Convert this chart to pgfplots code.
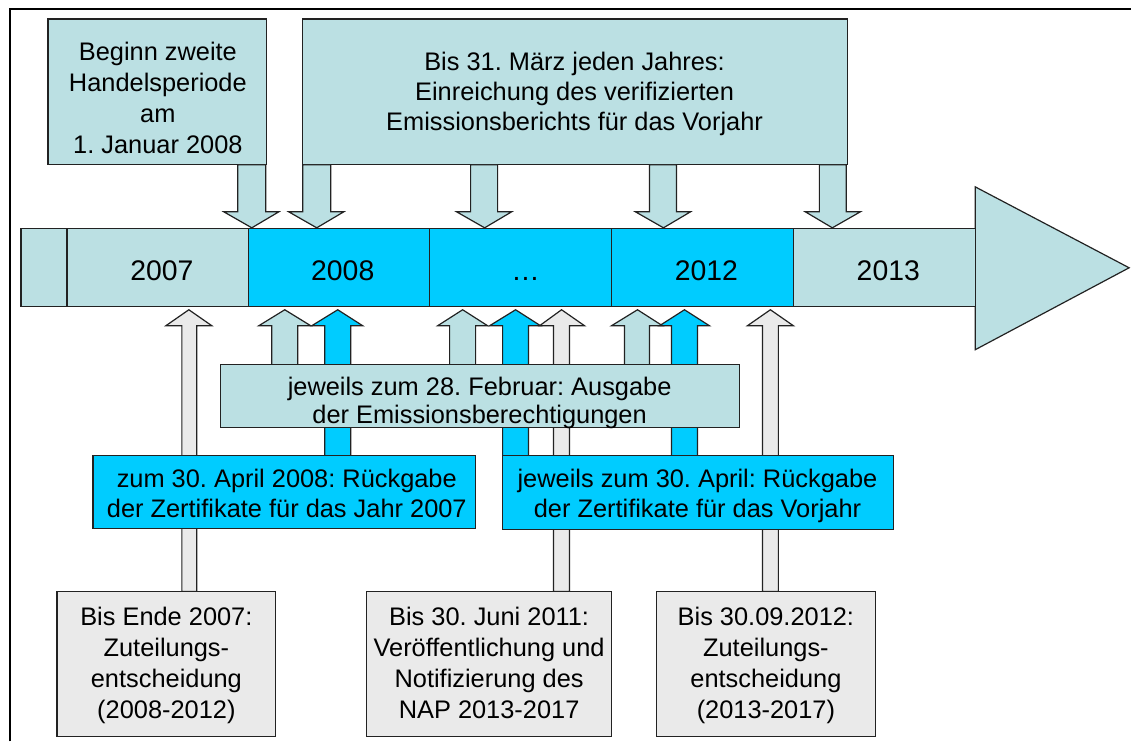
\documentclass[border=0pt]{standalone}
\usepackage{pgfplots}
\pgfplotsset{compat=1.18}
\usepackage{fontspec}
\setmainfont{Liberation Sans}
\definecolor{tealc}{HTML}{BBE0E3}
\definecolor{bluec}{HTML}{00CCFF}
\definecolor{grayc}{HTML}{EAEAEA}
\definecolor{linec}{HTML}{222222}
\frenchspacing
\begin{document}
\begin{tikzpicture}
\begin{axis}[
  scale only axis, width=566pt, height=371pt,
  xmin=0, xmax=1132, ymin=0, ymax=742, y dir=reverse,
  hide axis, clip=false,
  every axis plot/.append style={line width=0.6pt, draw=linec},
]
\path[draw=none] (rel axis cs:0,0) rectangle (rel axis cs:1,1);
% frame
\addplot[line width=0.9pt, draw=black] coordinates {(10,742) (10,9) (1132,9)};
% top boxes
\addplot[fill=tealc] coordinates {(48,19) (267,19) (267,165) (48,165)} -- cycle;
\addplot[fill=tealc] coordinates {(303,19) (848,19) (848,165) (303,165)} -- cycle;
% down arrows
\addplot[fill=tealc] coordinates {(238,165) (266,165) (266,212) (279,212) (252,228) (224,212) (238,212)} -- cycle;
\addplot[fill=tealc] coordinates {(303,165) (331,165) (331,212) (344,212) (317,228) (289,212) (303,212)} -- cycle;
\addplot[fill=tealc] coordinates {(471,165) (498,165) (498,212) (512,212) (485,228) (457,212) (471,212)} -- cycle;
\addplot[fill=tealc] coordinates {(650,165) (677,165) (677,212) (691,212) (664,228) (636,212) (650,212)} -- cycle;
\addplot[fill=tealc] coordinates {(820,165) (847,165) (847,212) (861,212) (833,228) (806,212) (820,212)} -- cycle;
% timeline
\addplot[fill=tealc] coordinates {(976,187) (1130,268) (976,350)} -- cycle;
\addplot[fill=tealc] coordinates {(21,229) (67,229) (67,307) (21,307)} -- cycle;
\addplot[fill=tealc] coordinates {(67,229) (249,229) (249,307) (67,307)} -- cycle;
\addplot[fill=bluec] coordinates {(249,229) (430,229) (430,307) (249,307)} -- cycle;
\addplot[fill=bluec] coordinates {(430,229) (612,229) (612,307) (430,307)} -- cycle;
\addplot[fill=bluec] coordinates {(612,229) (794,229) (794,307) (612,307)} -- cycle;
\addplot[fill=tealc] coordinates {(794,229) (976,229) (976,307) (794,307)} -- cycle;
% up arrows: teal
\addplot[fill=tealc] coordinates {(272,365) (272,326) (259,326) (285,310) (311,326) (298,326) (298,365)} -- cycle;
\addplot[fill=tealc] coordinates {(450,365) (450,326) (438,326) (463,310) (488,326) (476,326) (476,365)} -- cycle;
\addplot[fill=tealc] coordinates {(625,365) (625,326) (612,326) (638,310) (663,326) (650,326) (650,365)} -- cycle;
% up arrows: blue
\addplot[fill=bluec] coordinates {(325,456) (325,326) (312,326) (338,310) (363,326) (351,326) (351,456)} -- cycle;
\addplot[fill=bluec] coordinates {(503,456) (503,326) (490,326) (516,310) (541,326) (529,326) (529,456)} -- cycle;
\addplot[fill=bluec] coordinates {(672,456) (672,326) (660,326) (685,310) (710,326) (698,326) (698,456)} -- cycle;
% up arrows: gray
\addplot[fill=grayc] coordinates {(182,592) (182,326) (166,326) (189,310) (212,326) (197,326) (197,592)} -- cycle;
\addplot[fill=grayc] coordinates {(554,592) (554,326) (540,326) (562,310) (585,326) (570,326) (570,592)} -- cycle;
\addplot[fill=grayc] coordinates {(763,592) (763,326) (748,326) (771,310) (794,326) (779,326) (779,592)} -- cycle;
% middle boxes
\addplot[fill=tealc] coordinates {(221,365) (740,365) (740,428) (221,428)} -- cycle;
\addplot[fill=bluec] coordinates {(93,456) (476,456) (476,529) (93,529)} -- cycle;
\addplot[fill=bluec] coordinates {(503,456) (894,456) (894,530) (503,530)} -- cycle;
% bottom boxes
\addplot[fill=grayc] coordinates {(57,592) (276,592) (276,737) (57,737)} -- cycle;
\addplot[fill=grayc] coordinates {(367,592) (612,592) (612,737) (367,737)} -- cycle;
\addplot[fill=grayc] coordinates {(657,592) (876,592) (876,737) (657,737)} -- cycle;
% texts
\tikzset{txt/.style={align=center, inner sep=0pt, anchor=north, font=\fontsize{12.7}{15}\selectfont\frenchspacing}}
\node[txt, font=\fontsize{12.7}{15.5}\selectfont\frenchspacing] at (axis cs:158,42) {Beginn zweite\\Handelsperiode\\am\\1. Januar 2008};
\node[txt] at (axis cs:575,52) {Bis 31. März jeden Jahres:\\Einreichung des verifizierten\\Emissionsberichts für das Vorjahr};
\tikzset{yr/.style={inner sep=0pt, anchor=base, font=\fontsize{14.2}{17}\selectfont}}
\node[yr] at (axis cs:162,281) {2007};
\node[yr] at (axis cs:343,281) {2008};
\node[yr] at (axis cs:526,281) {\dots};
\node[yr] at (axis cs:707,281) {2012};
\node[yr] at (axis cs:889,281) {2013};
\node[txt, font=\fontsize{12.7}{14.2}\selectfont\frenchspacing] at (axis cs:480,377) {jeweils zum 28. Februar: Ausgabe\\der Emissionsberechtigungen};
\node[txt] at (axis cs:287,469) {zum 30. April 2008: Rückgabe\\der Zertifikate für das Jahr 2007};
\node[txt] at (axis cs:698,469) {jeweils zum 30. April: Rückgabe\\der Zertifikate für das Vorjahr};
\tikzset{btxt/.style={txt, font=\fontsize{12.7}{15.5}\selectfont\frenchspacing}}
\node[btxt] at (axis cs:166.5,607) {Bis Ende 2007:\\Zuteilungs-\\entscheidung\\(2008-2012)};
\node[btxt] at (axis cs:489.5,607) {Bis 30. Juni 2011:\\Veröffentlichung und\\Notifizierung des\\NAP 2013-2017};
\node[btxt] at (axis cs:766.5,607) {Bis 30.09.2012:\\Zuteilungs-\\entscheidung\\(2013-2017)};
\end{axis}
\end{tikzpicture}
\end{document}
